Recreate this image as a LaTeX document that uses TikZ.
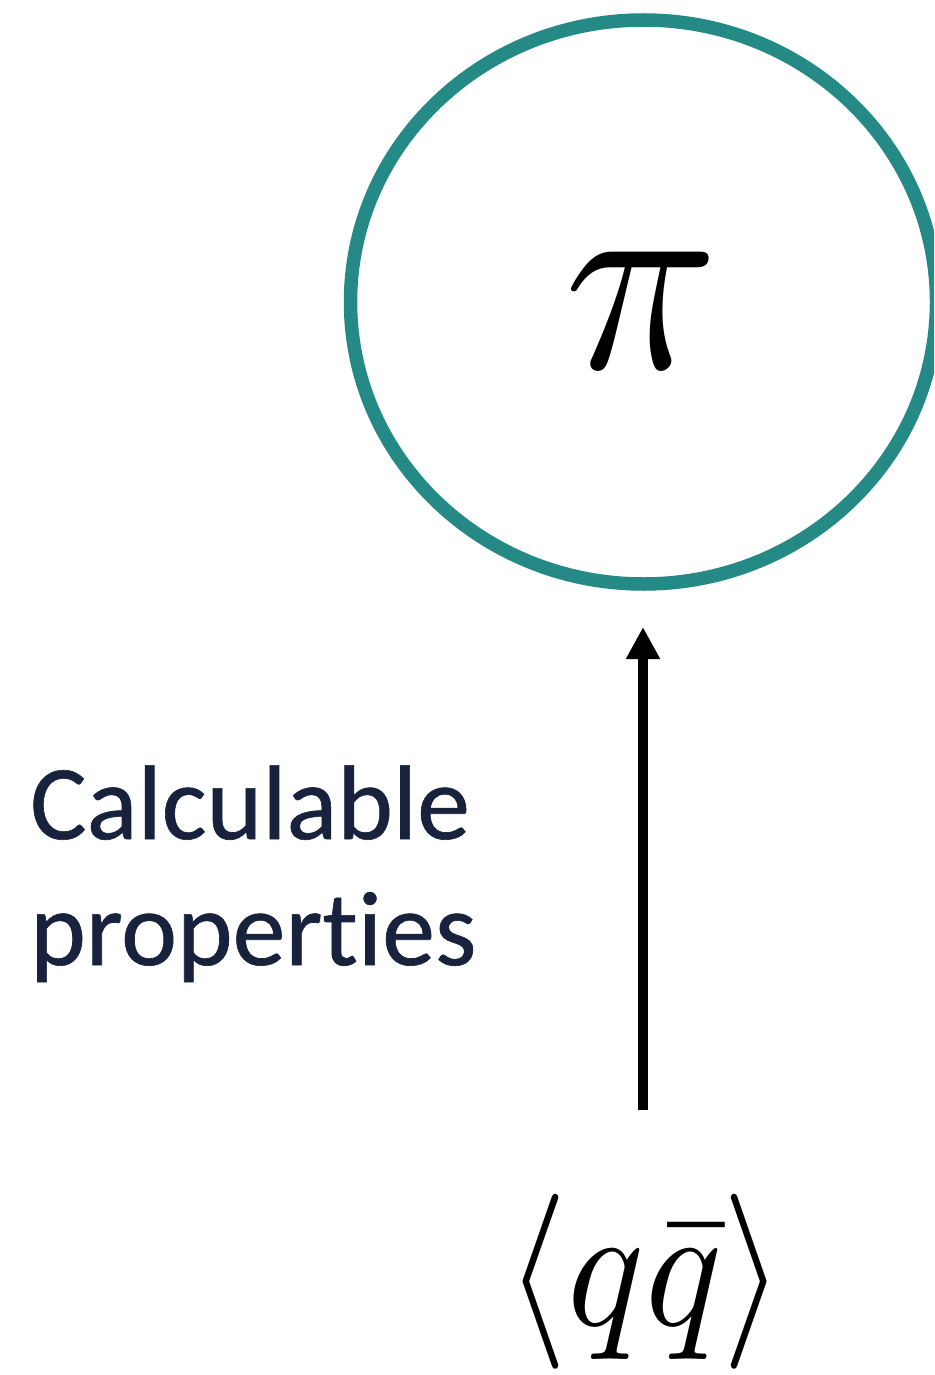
\documentclass[tikz,border=0pt]{standalone}
\usepackage{graphicx}
\usepackage{fontspec}
\newfontfamily\calib[Ligatures=NoCommon,FakeBold=0.6]{Carlito}
\usetikzlibrary{shapes.geometric,arrows.meta}
\definecolor{ringteal}{HTML}{258A85}
\definecolor{labelnavy}{HTML}{19223D}
\tikzset{
  ring/.style={draw=ringteal, line width=13.5pt, ellipse, minimum width=586pt, minimum height=564pt, inner sep=0pt},
  lbl/.style={text=labelnavy, font=\calib\fontsize{106}{110}\selectfont, inner sep=0pt, anchor=base west},
  mathbig/.style={inner sep=0pt},
  uparrow/.style={line width=10pt, -{Triangle[length=32pt,width=32pt]}}
}
\begin{document}
\begin{tikzpicture}[x=1pt,y=-1pt]
\useasboundingbox (0,0) rectangle (934,1375);
\clip (0,0) rectangle (934,1375);
\node[ring] (pi) at (643.5,302) {};
\node[mathbig] (pisym) at (642,310) {\scalebox{25.5}[27]{$\pi$}};
\node[lbl] (lbl1) at (30,839) {Calculable};
\node[lbl] (lbl2) at (30,965) {properties};
\node[mathbig] (qq) at (645,1282) {\scalebox{16}[17.5]{$\langle q\bar q\rangle$}};
\coordinate (a0) at (643,1110);
\coordinate (a1) at (643,627);
\draw[uparrow] (a0) -- (a1);
\end{tikzpicture}
\end{document}
